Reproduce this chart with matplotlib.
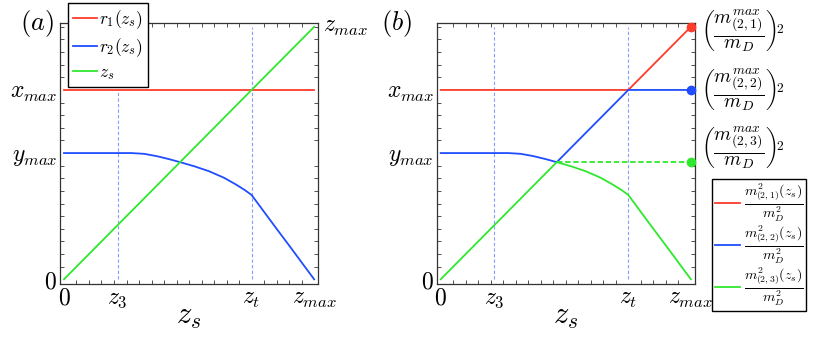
import numpy as np
import matplotlib
matplotlib.use("Agg")
import matplotlib.pyplot as plt
from matplotlib.ticker import MultipleLocator

# ---- data (z_max = 1) ----
zs = [0.0, 0.10, 0.20, 0.27, 0.32, 0.37, 0.42, 0.464, 0.52, 0.58, 0.64, 0.69, 0.725, 0.75, 0.80, 0.85, 0.90, 0.95, 1.0]
r1 = [0.75] * len(zs)
r2 = [0.5, 0.5, 0.5, 0.5, 0.497, 0.488, 0.476, 0.464, 0.448, 0.428, 0.402, 0.374, 0.352, 0.334, 0.267, 0.200, 0.134, 0.067, 0.0]
z3 = 0.215
zt = 0.75

x_ticks = [0, z3, zt, 1.0]
x_labels = [r"$0$", r"$z_3$", r"$z_t$", r"$z_{max}$"]
y_ticks = [0, 0.5, 0.75]
y_labels = [r"$0$", r"$y_{max}$", r"$x_{max}$"]

RED = "#ff3b2b"
BLUE = "#1f4dff"
GREEN = "#2ee82e"
GRID = "#8a9cff"

plt.rcParams["mathtext.fontset"] = "cm"
plt.rcParams["font.family"] = "serif"

zs = np.array(zs)
r1 = np.array(r1)
r2 = np.array(r2)
# panel (b): mass eigenvalues are the ordered set of the three curves
m_sorted = np.sort(np.vstack([r1, r2, zs]), axis=0)[::-1]
m1, m2, m3 = m_sorted
m3_max = m3.max()

fig = plt.figure(figsize=(8.17, 3.39), dpi=100)
ax_a = fig.add_axes([0.0734, 0.162, 0.316, 0.770])
ax_b = fig.add_axes([0.5345, 0.162, 0.316, 0.770])


def style_axes(ax):
    ax.set_xlim(-0.016, 1.016)
    ax.set_ylim(-0.019, 1.015)
    ax.set_xticks(x_ticks)
    ax.set_xticklabels(x_labels, fontsize=17)
    ax.set_yticks(y_ticks)
    ax.set_yticklabels(y_labels, fontsize=17)
    ax.xaxis.set_minor_locator(MultipleLocator(0.05))
    ax.yaxis.set_minor_locator(MultipleLocator(0.05))
    ax.tick_params(which="major", length=0, pad=2)
    ax.tick_params(which="minor", direction="in", length=3, width=0.6,
                   top=True, right=True, color="#333333")
    for s in ax.spines.values():
        s.set_linewidth(0.9)
        s.set_color("#333333")
    ax.set_xlabel(r"$z_s$", fontsize=22, labelpad=-7)


# ---- (a) ----
style_axes(ax_a)
ax_a.plot([z3, z3], [0, 0.75], ls=(0, (3, 2)), lw=0.8, color=GRID)
ax_a.plot([zt, zt], [0, 1.0], ls=(0, (3, 2)), lw=0.8, color=GRID)
ax_a.plot(zs, r1, color=RED, lw=1.3, label=r"$r_1(z_s)$")
ax_a.plot(zs, r2, color=BLUE, lw=1.3, label=r"$r_2(z_s)$")
ax_a.plot(zs, zs, color=GREEN, lw=1.3, label=r"$z_s$")
ax_a.text(1.02, 1.0, r"$z_{max}$", fontsize=17, ha="left", va="center",
          transform=ax_a.get_yaxis_transform())
ax_a.legend(loc="upper left", bbox_to_anchor=(0.083, 0.991),
            bbox_transform=fig.transFigure, fontsize=12.5, frameon=True,
            fancybox=False, edgecolor="black", framealpha=1,
            handlelength=1.4, handletextpad=0.1, borderpad=0.3,
            labelspacing=0.3, borderaxespad=0)
fig.text(0.045, 0.93, r"$(a)$", fontsize=19, ha="center", va="center")

# ---- (b) ----
style_axes(ax_b)
ax_b.plot([z3, z3], [0, 1.0], ls=(0, (3, 2)), lw=0.8, color=GRID)
ax_b.plot([zt, zt], [0, 1.0], ls=(0, (3, 2)), lw=0.8, color=GRID)
ax_b.plot(zs, m1, color=RED, lw=1.3,
          label=r"$\dfrac{m^2_{(2,1)}(z_s)}{m^2_D}$")
ax_b.plot(zs, m2, color=BLUE, lw=1.3,
          label=r"$\dfrac{m^2_{(2,2)}(z_s)}{m^2_D}$")
ax_b.plot(zs, m3, color=GREEN, lw=1.3,
          label=r"$\dfrac{m^2_{(2,3)}(z_s)}{m^2_D}$")
ax_b.plot([zs[np.argmax(m3)], 1.0], [m3_max, m3_max], color=GREEN,
          lw=1.3, ls=(0, (3, 1.5)))
for val, col in [(m1.max(), RED), (m2.max(), BLUE), (m3_max, GREEN)]:
    ax_b.plot([1.0], [val], "o", color=col, ms=6, clip_on=False, zorder=5)

label_y = [0.985, 0.75, 0.52]
for i, y in enumerate(label_y):
    ax_b.text(1.025, y,
              r"$\left(\dfrac{m^{max}_{(2,%d)}}{m_D}\right)^{\!2}$" % (i + 1),
              fontsize=14, ha="left", va="center",
              transform=ax_b.get_yaxis_transform())

fig.text(0.485, 0.93, r"$(b)$", fontsize=19, ha="center", va="center")
ax_b.legend(loc="upper left", bbox_to_anchor=(0.8715, 0.472),
            bbox_transform=fig.transFigure, fontsize=10, frameon=True,
            fancybox=False, edgecolor="black", framealpha=1,
            handlelength=1.8, handletextpad=0.3, borderpad=0.2,
            labelspacing=0.0, borderaxespad=0)

fig.savefig("out.png", dpi=100)
